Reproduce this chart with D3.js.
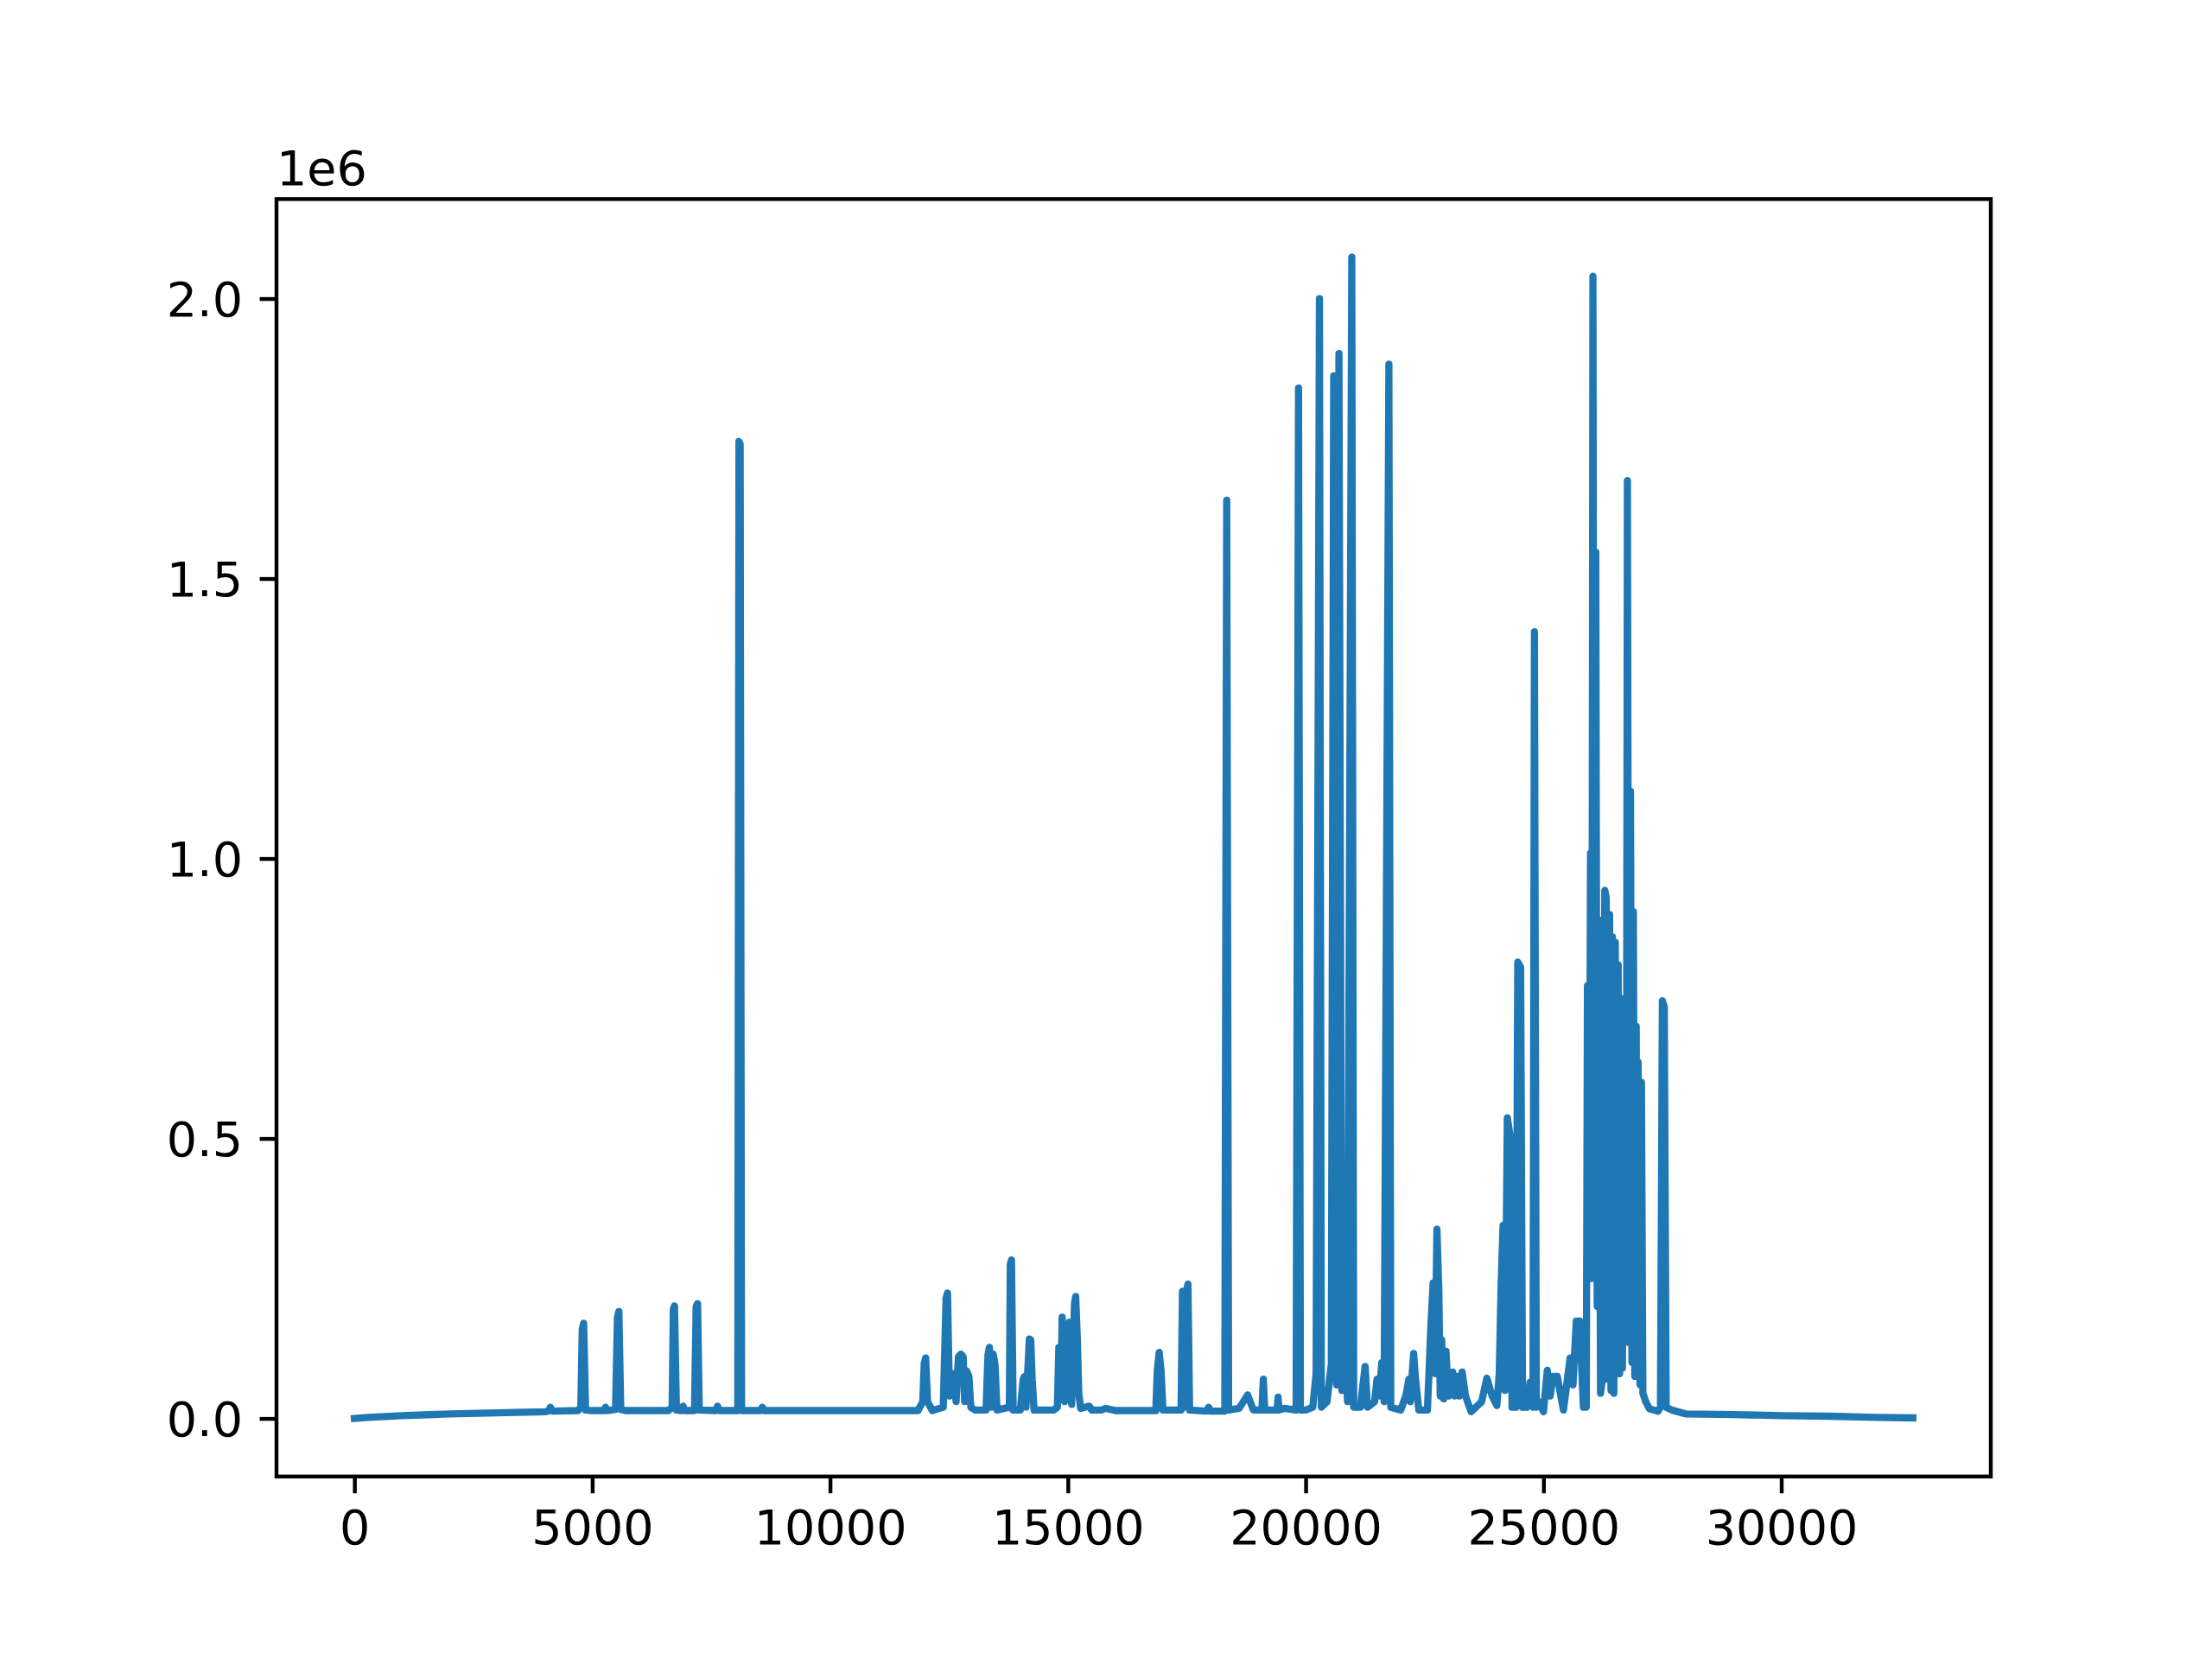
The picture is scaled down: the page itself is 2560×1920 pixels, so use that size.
<!DOCTYPE html>
<html>
<head>
<meta charset="utf-8">
<script src="https://cdn.jsdelivr.net/npm/d3@7"></script>
<style>
html,body{margin:0;padding:0;background:#fff;}
svg{display:block;}
text{font-family:"DejaVu Sans",sans-serif;}
</style>
</head>
<body>
<svg id="chart" width="2560" height="1920"></svg>
<script>
// Sample positions (x) and signal values (y, raw units)
const xValues = [
0,300,1000,2000,3000,4000,4080,4120,4160,4700,4760,4790,4820,4860,5000,5250,5280,5310,5490,5530,5560,5600,5700,
6600,6680,6705,6730,6770,6880,6910,6950,7150,7185,7215,7250,7600,7635,7670,8060,8085,8110,8140,8540,8575,8610,
11850,11950,11980,12010,12050,12150,12380,12440,12470,12510,12560,12600,12650,12700,12750,12800,12830,12870,12920,12960,
13050,13280,13320,13350,13390,13430,13470,13510,13770,13790,13815,13850,14000,14060,14090,14120,14190,14220,14250,14290,
14700,14780,14810,14850,14880,14930,14990,15030,15080,15140,15165,15200,15230,15270,15450,15500,15700,15800,16000,
16850,16880,16920,16960,17000,17380,17410,17440,17500,17525,17560,17920,17960,18000,18300,18340,18380,18600,18780,18900,
19080,19110,19140,19400,19420,19440,19550,19800,19850,19890,20000,20150,20220,20290,20330,20450,20540,20590,20650,20700,
20760,20840,20880,20970,21010,21150,21250,21300,21450,21500,21550,21600,21650,21750,21790,22000,22110,22170,22200,22270,
22310,22380,22560,22600,22630,22680,22720,22760,22800,22830,22860,22900,22950,23000,23090,23130,23180,23230,23290,23360,
23480,23700,23810,23920,24020,24070,24110,24150,24190,24240,24300,24340,24420,24460,24520,24560,24650,24720,24780,24810,
24850,24900,25000,25080,25140,25200,25290,25420,25560,25620,25690,25760,25840,25900,25925,25960,25990,26015,26040,26070,
26100,26130,26165,26200,26240,26290,26320,26350,26390,26420,26450,26480,26510,26540,26570,26600,26630,26660,26700,26740,
26765,26800,26830,26860,26890,26920,26950,26970,26990,27030,27060,27090,27150,27230,27410,27460,27500,27540,27580,27700,
28000,29000,30000,31000,32000,32767
];
const yValues = [
0,2000,5000,8000,10000,12000,13000,20000,13000,14000,20000,160000,170000,15000,14000,14000,20000,14000,16000,180000,191000,16000,14000,
14000,20000,195000,201000,15000,14000,22000,14000,14000,200000,205000,15000,14000,22000,14000,14000,1745000,1740000,14000,14000,20000,14000,
14000,30000,98000,108000,30000,14000,20000,215000,224000,40000,60000,80000,30000,110000,115000,110000,30000,85000,75000,20000,
15000,15000,113000,127000,20000,115000,95000,15000,20000,275000,283000,15000,15000,70000,75000,20000,142000,140000,70000,15000,
15000,20000,127000,40000,181000,30000,160000,172000,25000,205000,218000,140000,45000,18000,22000,15000,15000,18000,14000,
14000,85000,118000,85000,15000,15000,227000,20000,230000,240000,15000,13000,20000,13000,13000,1640000,15000,18000,42000,15000,
15000,70000,15000,15000,38000,15000,18000,15000,1840000,15000,15000,20000,80000,2000000,20000,30000,98000,1862000,60000,1902000,
50000,103000,30000,2074000,20000,20000,93000,20000,30000,70000,40000,100000,30000,1883000,20000,15000,42000,70000,30000,116000,
70000,15000,15000,96000,160000,242000,80000,338000,230000,40000,140000,35000,120000,40000,83000,40000,75000,40000,83000,40000,
12000,30000,72000,40000,23000,80000,240000,345000,50000,537000,503000,20000,20000,815000,806000,20000,20000,65000,20000,1405000,
20000,30000,12000,86000,40000,75000,75000,15000,108000,60000,174000,174000,20000,20000,773000,250000,1010000,250000,2040000,300000,
1547000,200000,890000,45000,70000,943000,930000,70000,900000,50000,860000,45000,850000,90000,810000,80000,750000,90000,700000,150000,
1675000,135000,1120000,100000,905000,75000,700000,80000,636000,60000,600000,45000,30000,17000,13000,20000,746000,735000,20000,15000,
8000,7000,5000,4000,2000,1000
];
const xTickValues = [0,5000,10000,15000,20000,25000,30000];
const yTickValues = [0,500000,1000000,1500000,2000000];
const yTickLabels = ["0.0","0.5","1.0","1.5","2.0"];
const offsetLabel = "1e6";

if (xValues.length !== yValues.length) throw new Error("length mismatch " + xValues.length + " " + yValues.length);
const points = xValues.map((xv,i)=>({x:xv, y:yValues[i]}));

const W=2560,H=1920;
const mLeft=320, mRight=2304, mTop=230.4, mBottom=1708.8;
const fs = 55.56;
const tickLen = 19.44, tickW = 4.44, pad = 19.44;

const svg = d3.select("#chart");
svg.append("rect").attr("width",W).attr("height",H).attr("fill","#fff");

const xmin=d3.min(xValues), xmax=d3.max(xValues);
const ymin=d3.min(yValues), ymax=d3.max(yValues);
const xm=(xmax-xmin)*0.05, ym=(ymax-ymin)*0.05;
const xScale = d3.scaleLinear().domain([xmin-xm, xmax+xm]).range([mLeft,mRight]);
const yScale = d3.scaleLinear().domain([ymin-ym, ymax+ym]).range([mBottom,mTop]);

svg.append("clipPath").attr("id","plotclip").append("rect")
  .attr("x",mLeft).attr("y",mTop).attr("width",mRight-mLeft).attr("height",mBottom-mTop);

svg.append("path").datum(points)
  .attr("clip-path","url(#plotclip)")
  .attr("fill","none").attr("stroke","#1f77b4").attr("stroke-width",8.33)
  .attr("stroke-linejoin","round").attr("stroke-linecap","square")
  .attr("d", d3.line().x(d=>xScale(d.x)).y(d=>yScale(d.y)));

const xAxis = d3.axisBottom(xScale).tickValues(xTickValues).tickFormat(d3.format("d"))
  .tickSize(tickLen).tickPadding(pad);
const gx = svg.append("g").attr("transform",`translate(0,${mBottom})`).call(xAxis);
gx.select(".domain").remove();
gx.selectAll(".tick line").attr("stroke","#000").attr("stroke-width",tickW);
gx.selectAll(".tick text").attr("font-size",fs).attr("fill","#000")
  .attr("font-family","DejaVu Sans").attr("dy","0.71em").attr("y",tickLen+pad);

const yAxis = d3.axisLeft(yScale).tickValues(yTickValues)
  .tickFormat((d,i)=>yTickLabels[i]).tickSize(tickLen).tickPadding(pad);
const gy = svg.append("g").attr("transform",`translate(${mLeft},0)`).call(yAxis);
gy.select(".domain").remove();
gy.selectAll(".tick line").attr("stroke","#000").attr("stroke-width",tickW);
gy.selectAll(".tick text").attr("font-size",fs).attr("fill","#000")
  .attr("font-family","DejaVu Sans").attr("dy","0.36em");

svg.append("rect").attr("x",mLeft).attr("y",mTop).attr("width",mRight-mLeft).attr("height",mBottom-mTop)
  .attr("fill","none").attr("stroke","#000").attr("stroke-width",tickW)
  .attr("stroke-linejoin","miter");

svg.append("text").attr("x",mLeft).attr("y",mTop-16).attr("font-size",fs)
  .attr("fill","#000").attr("font-family","DejaVu Sans").text(offsetLabel);
</script>
</body>
</html>
